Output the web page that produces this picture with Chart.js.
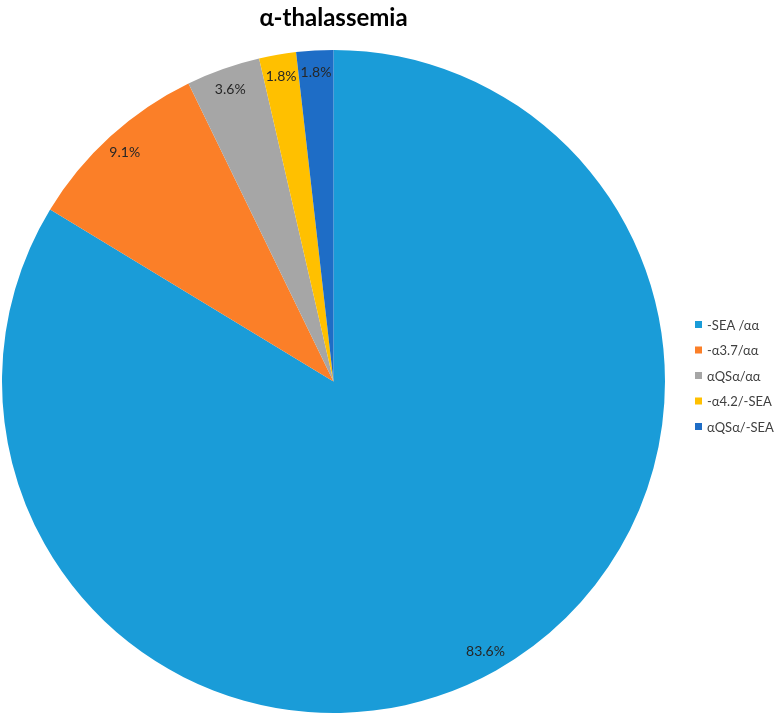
<!DOCTYPE html>
<html>
<head>
<meta charset="utf-8">
<script src="https://cdn.jsdelivr.net/npm/chart.js@4/dist/chart.umd.min.js"></script>
<style>
  html, body { margin: 0; padding: 0; background: #fff; }
  #wrap { width: 775px; height: 715px; position: relative; }
</style>
</head>
<body>
<div id="wrap"><canvas id="pieChart"></canvas></div>
<script>
// genotypes and their share (%)
var genotypes = ["-SEA /αα", "-α3.7/αα", "αQSα/αα", "-α4.2/-SEA", "αQSα/-SEA"];
var shares = [83.6, 9.1, 3.6, 1.8, 1.8];
var sliceColors = ['#1A9CD8', '#FB7F28', '#A6A6A6', '#FFC000', '#1E6DC6'];

// percent labels inside the slices + legend on the right
var pieExtras = {
  id: 'pieExtras',
  afterDatasetsDraw: function (chart) {
    var ctx = chart.ctx;
    var meta = chart.getDatasetMeta(0);
    ctx.save();
    ctx.font = '14px Lato';
    ctx.fillStyle = '#262626';
    ctx.textAlign = 'center';
    ctx.textBaseline = 'middle';
    meta.data.forEach(function (arc, i) {
      var p = arc.getProps(['x', 'y', 'startAngle', 'endAngle', 'outerRadius']);
      var mid = (p.startAngle + p.endAngle) / 2;
      var r = p.outerRadius * 0.935;
      ctx.fillText(shares[i].toFixed(1) + '%', p.x + Math.cos(mid) * r, p.y + Math.sin(mid) * r);
    });

    // legend
    var area = chart.chartArea;
    var step = 25.5;
    var x0 = area.right + 28;
    var y0 = (area.top + area.bottom) / 2 - 6 - step * (genotypes.length - 1) / 2;
    ctx.textAlign = 'left';
    ctx.font = '13px Lato';
    genotypes.forEach(function (g, i) {
      var y = y0 + i * step;
      ctx.fillStyle = sliceColors[i];
      ctx.fillRect(x0, y - 3.5, 7, 7);
      ctx.fillStyle = '#404040';
      ctx.fillText(g, x0 + 12, y + 1);
    });
    ctx.restore();
  }
};

var pieChart = new Chart(document.getElementById('pieChart'), {
  type: 'pie',
  data: {
    labels: genotypes,
    datasets: [{
      data: shares,
      backgroundColor: sliceColors,
      borderWidth: 0
    }]
  },
  options: {
    responsive: true,
    maintainAspectRatio: false,
    animation: false,
    layout: { padding: { top: 0, right: 108, bottom: 2, left: 0 } },
    plugins: {
      legend: { display: false },
      tooltip: { enabled: false },
      title: {
        display: true,
        text: 'α-thalassemia',
        color: '#000',
        font: { family: 'Lato', size: 24, weight: 'bold' },
        padding: { top: 4, bottom: 17.2 }
      }
    }
  },
  plugins: [pieExtras]
});
</script>
</body>
</html>
